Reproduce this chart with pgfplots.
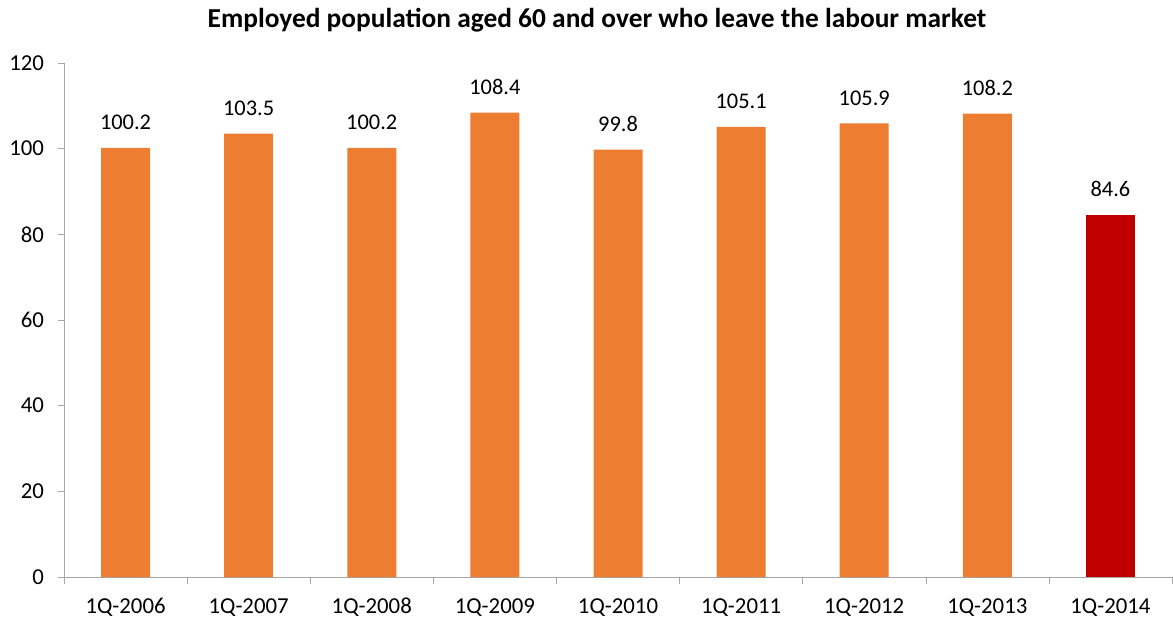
\documentclass[border=0pt]{standalone}
\usepackage{pgfplots}
\pgfplotsset{compat=1.18}
\usepackage{fontspec}
\setmainfont{Carlito}
\definecolor{barorange}{HTML}{ED7D31}
\definecolor{barred}{HTML}{C00000}
\definecolor{axisgray}{HTML}{A6A6A6}
\begin{document}
\begin{tikzpicture}
\useasboundingbox (-32pt,-22pt) rectangle (554.5pt,288.5pt);
\begin{axis}[
  scale only axis,
  width=554pt, height=257pt,
  xmin=-0.5, xmax=8.5,
  ymin=0, ymax=120,
  ytick={0,20,...,120},
  xtick={0,...,8},
  xticklabels={1Q-2006,1Q-2007,1Q-2008,1Q-2009,1Q-2010,1Q-2011,1Q-2012,1Q-2013,1Q-2014},
  minor xtick={-0.5,0.5,...,8.5},
  major x tick style={draw=none},
  minor x tick style={draw=axisgray},
  ytick style={draw=axisgray},
  tick align=outside,
  major tick length=3pt,
  minor tick length=3.5pt,
  axis x line*=bottom,
  axis y line*=left,
  axis line style={draw=axisgray, -},
  ybar, bar shift=0pt, bar width=24.5pt,
  /pgf/number format/assume math mode=true,
  tick label style={font=\fontsize{11.4}{13}\selectfont, text=black},
  xticklabel style={anchor=base, yshift=-15pt},
  yticklabel style={xshift=-3.5pt},
  nodes near coords={\pgfmathprintnumber[fixed,fixed zerofill,precision=1,assume math mode=true]{\pgfplotspointmeta}},
  nodes near coords style={font=\fontsize{11.2}{13}\selectfont, text=black, anchor=base, yshift=9pt, inner sep=0pt},
  clip=false,
]
\addplot[fill=barorange, draw=none] coordinates {
(0,100.2) (1,103.5) (2,100.2) (3,108.4) (4,99.8) (5,105.1) (6,105.9) (7,108.2)};
\addplot[fill=barred, draw=none] coordinates {(8,84.6)};
\node[anchor=base, font=\bfseries\fontsize{13.7}{16}\selectfont] at (rel axis cs:0,0) [xshift=266.5pt, yshift=274.5pt] {Employed population aged 60 and over who leave the labour market};
\end{axis}
\end{tikzpicture}
\end{document}
